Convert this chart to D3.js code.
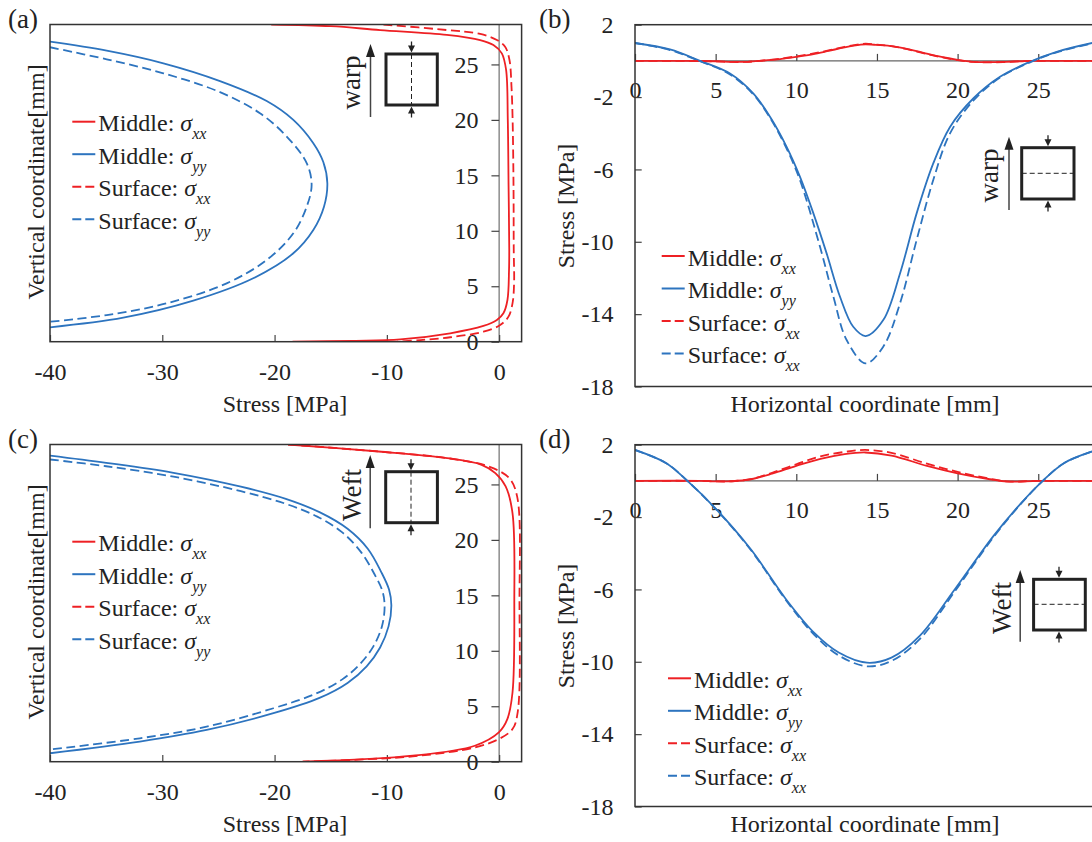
<!DOCTYPE html>
<html>
<head>
<meta charset="utf-8">
<script src="https://cdn.jsdelivr.net/npm/d3@7"></script>
<style>
  body { margin: 0; background: #fff; }
  svg { display: block; font-family: "Liberation Serif", "Times New Roman", serif; }
</style>
</head>
<body>
<svg width="1092" height="842"></svg>
<script>
// ---- data: profiles along the vertical coordinate, [stress MPa, y mm] ----
var warpMidSxx = [[-20.3, 28.6], [-15, 28.45], [-10.6, 28.1], [-4.66, 27.66], [-1.69, 27.2], [-0.51, 26.75], [0.24, 26.0], [0.62, 24.5], [0.77, 20.0], [0.84, 14.0], [0.9, 8.3], [0.88, 6.46], [0.74, 3.76], [0.38, 2.56], [-0.2, 1.96], [-1.4, 1.42], [-4.36, 0.76], [-8.8, 0.21], [-13, 0.08], [-18.4, 0]];
var warpSurfSxx = [[-10.3, 28.6], [-4.66, 28.1], [-1.69, 27.75], [-0.2, 27.2], [0.53, 26.6], [0.92, 25.4], [1.1, 23.0], [1.2, 20], [1.28, 14], [1.3, 8.3], [1.33, 5.26], [1.19, 3.46], [0.83, 2.26], [0.09, 1.5], [-1.4, 0.9], [-4.36, 0.4], [-7.0, 0.15], [-9.1, 0]];
var warpMidSyy = [[-40.0, 27.05], [-34.95, 26.24], [-29.9, 25.1], [-24.86, 23.5], [-20.7, 21.7], [-18.33, 20.0], [-16.55, 17.9], [-15.66, 16.2], [-15.3, 14.28], [-15.6, 12.17], [-16.55, 10.07], [-18.33, 7.97], [-21.9, 5.72], [-27.24, 3.7], [-33.47, 2.17], [-40.0, 1.3]];
var warpSurfSyy = [[-40.0, 26.55], [-34.95, 25.46], [-29.9, 24.2], [-24.86, 22.5], [-21.3, 20.6], [-18.92, 18.5], [-17.14, 16.1], [-16.7, 14.13], [-17.14, 12.17], [-18.33, 9.77], [-20.7, 7.37], [-24.27, 5.26], [-29.6, 3.46], [-34.95, 2.4], [-40.0, 1.8]];

var weftMidSxx = [[-18.8, 28.6], [-10.75, 27.97], [-4.63, 27.37], [-1.56, 26.77], [-0.34, 26.02], [0.58, 24.82], [1.19, 22.42], [1.35, 14.33], [1.19, 6.24], [0.73, 3.84], [-0.03, 2.64], [-2.17, 1.44], [-7.69, 0.54], [-17.5, 0]];
var weftSurfSxx = [[-18.8, 28.6], [-10.75, 27.97], [-4.63, 27.37], [-0.95, 26.62], [0.89, 25.57], [1.6, 23.92], [1.81, 14.33], [1.65, 4.44], [1.19, 2.94], [-0.03, 2.04], [-2.17, 1.29], [-7.69, 0.48], [-17.5, 0]];
var weftMidSyy = [[-40, 27.6], [-35, 26.95], [-29, 26.05], [-23, 24.8], [-19, 23.7], [-16, 22.5], [-13.5, 21.0], [-11.7, 19.2], [-10.5, 17.1], [-9.8, 15.5], [-9.6, 14.1], [-9.85, 12.2], [-10.6, 10.3], [-11.8, 8.6], [-13.5, 7.1], [-16.0, 5.75], [-20.1, 4.37], [-26.05, 2.86], [-32, 1.81], [-40, 0.76]];
var weftSurfSyy = [[-40, 27.25], [-35, 26.64], [-29, 25.7], [-23, 24.39], [-19, 23.25], [-16.2, 22.1], [-14, 20.7], [-12.3, 18.9], [-11.1, 16.9], [-10.4, 15.4], [-10.2, 14.03], [-10.44, 12.2], [-11.2, 10.4], [-12.4, 8.8], [-14.0, 7.4], [-16.4, 6.1], [-20.1, 4.82], [-26.05, 3.16], [-32, 2.11], [-40, 1.1]];

// ---- data: along the horizontal coordinate, [x mm, stress MPa] ----
var warpHMidSxx = [[0, 0], [3, 0], [5, -0.02], [6, -0.05], [7, -0.05], [8, 0.02], [9, 0.1], [10, 0.22], [11, 0.36], [12, 0.55], [13, 0.75], [14, 0.9], [14.3, 0.92], [15, 0.88], [16, 0.8], [17, 0.63], [18, 0.42], [19, 0.22], [20, 0.06], [21, -0.05], [22, -0.07], [23, -0.05], [24, -0.02], [25, 0], [28.4, 0]];
var warpHSurfSxx = [[0, 0], [3, 0], [5, -0.03], [6, -0.06], [7, -0.05], [8, 0.03], [9, 0.12], [10, 0.25], [11, 0.4], [12, 0.58], [13, 0.78], [14, 0.93], [14.3, 0.95], [15, 0.9], [16, 0.8], [17, 0.62], [18, 0.4], [19, 0.2], [20, 0.04], [21, -0.06], [22, -0.08], [23, -0.06], [24, -0.02], [25, 0], [28.4, 0]];
var warpHMidSyy = [[0, 0.99], [2.17, 0.63], [4.03, 0], [5.89, -0.7], [7.33, -1.8], [8.37, -3.09], [9.4, -4.75], [10.23, -6.41], [11.06, -8.43], [11.88, -10.64], [12.71, -13.04], [13.53, -14.7], [14.3, -15.21], [15.39, -14.33], [16.43, -11.75], [17.46, -8.43], [18.49, -5.67], [19.53, -3.65], [20.97, -2.08], [22.63, -0.88], [24.49, -0.05], [26.14, 0.5], [28.4, 1.0]];
var warpHSurfSyy = [[0, 0.99], [2.17, 0.6], [4.03, -0.02], [5.89, -0.75], [7.33, -1.85], [8.37, -3.15], [9.4, -4.85], [10.23, -6.6], [11.47, -10.28], [12.3, -13.04], [13.12, -15.43], [14.3, -16.72], [15.39, -15.8], [16.43, -13.4], [17.46, -9.9], [18.49, -6.59], [19.53, -4.01], [20.97, -2.2], [22.63, -0.92], [24.49, -0.08], [26.14, 0.47], [28.4, 0.98]];

var weftHMidSxx = [[0, 0], [4, 0], [5, -0.03], [6, -0.02], [7.18, 0.09], [8.5, 0.4], [10, 0.83], [11.5, 1.22], [13, 1.48], [14.27, 1.57], [15.9, 1.4], [18.1, 0.83], [20, 0.42], [22, 0.09], [23.1, -0.04], [25, 0], [28.4, 0]];
var weftHSurfSxx = [[0, 0], [4, 0], [5, -0.03], [6, -0.02], [7.18, 0.1], [8.5, 0.45], [10, 0.92], [11.5, 1.36], [13, 1.6], [14.27, 1.71], [15.9, 1.55], [18.1, 0.95], [20, 0.5], [22, 0.12], [23.1, -0.03], [25, 0], [28.4, 0]];
var weftHMidSyy = [[0, 1.71], [1.94, 0.98], [3.25, 0], [5.0, -1.53], [7.18, -3.78], [9.36, -6.54], [11.1, -8.39], [12.63, -9.49], [14.38, -10.05], [15.9, -9.77], [17.65, -8.57], [19.83, -5.99], [22.23, -3.04], [23.97, -1.2], [25.28, 0], [26.59, 0.98], [28.4, 1.64]];
var weftHSurfSyy = [[0, 1.71], [1.94, 0.98], [3.25, 0], [5.0, -1.55], [7.18, -3.82], [9.36, -6.6], [11.1, -8.5], [12.63, -9.65], [14.38, -10.25], [15.9, -9.95], [17.65, -8.75], [19.83, -6.1], [22.23, -3.1], [23.97, -1.22], [25.28, 0], [26.59, 0.98], [28.4, 1.64]];

// ---- ticks and labels ----
var profileXTicks = [-40, -30, -20, -10, 0];
var profileYTicks = [0, 5, 10, 15, 20, 25];
var horizXTicks = [0, 5, 10, 15, 20, 25];
var horizYTicks = [2, -2, -6, -10, -14, -18];
var legendProfile = [["Middle", "xx"], ["Middle", "yy"], ["Surface", "xx"], ["Surface", "yy"]];
var legendHoriz = [["Middle", "xx"], ["Middle", "yy"], ["Surface", "xx"], ["Surface", "xx"]];

var RED = "#ee2024", BLUE = "#2d74bf", INK = "#222";
var styles = [
  { color: RED, dash: null },
  { color: BLUE, dash: null },
  { color: RED, dash: "9,4.5" },
  { color: BLUE, dash: "9,4.5" }
];

var svg = d3.select("svg");
svg.append("rect").attr("width", 1092).attr("height", 842).attr("fill", "#fff");
var fmt = function (d) { return String(d); };

function styleAxis(ax) {
  ax.select(".domain").remove();
  ax.selectAll("line").attr("stroke", "#444").attr("stroke-width", 1.2);
  ax.selectAll("text").attr("fill", INK).style("font-size", "24px")
    .style("font-family", "'Liberation Serif', 'Times New Roman', serif");
}

function addLegend(g, x0, y0, labels) {
  labels.forEach(function (lab, i) {
    var y = y0 + i * 32.5;
    g.append("line").attr("x1", x0).attr("x2", x0 + 23).attr("y1", y).attr("y2", y)
      .attr("stroke", styles[i].color).attr("stroke-width", 2)
      .attr("stroke-dasharray", styles[i].dash ? "9,4" : null);
    var t = g.append("text").attr("x", x0 + 26).attr("y", y + 9.5)
      .attr("fill", INK).style("font-size", "24px");
    t.append("tspan").text(lab[0] + ": ");
    t.append("tspan").style("font-style", "italic").text("σ");
    t.append("tspan").style("font-style", "italic").style("font-size", "16px")
      .attr("dy", 8).text(lab[1]);
  });
}

function addInset(g, o) {
  // big direction arrow
  g.append("line").attr("x1", o.ax).attr("x2", o.ax).attr("y1", o.aBot).attr("y2", o.aTop + 10)
    .attr("stroke", "#444").attr("stroke-width", 1.5);
  g.append("path").attr("fill", "#222")
    .attr("d", "M" + o.ax + "," + o.aTop + "l-4.5,13h9z");
  // specimen box
  g.append("rect").attr("x", o.box[0]).attr("y", o.box[1])
    .attr("width", o.box[2] - o.box[0]).attr("height", o.box[3] - o.box[1])
    .attr("fill", "none").attr("stroke", INK).attr("stroke-width", 3);
  if (o.cut === "v") {
    g.append("line").attr("x1", o.mx).attr("x2", o.mx).attr("y1", o.box[1]).attr("y2", o.box[3])
      .attr("stroke", INK).attr("stroke-width", 1).attr("stroke-dasharray", "5,3");
  } else {
    g.append("line").attr("x1", o.box[0]).attr("x2", o.box[2]).attr("y1", o.cy).attr("y2", o.cy)
      .attr("stroke", INK).attr("stroke-width", 1).attr("stroke-dasharray", "5,3");
  }
  // small load arrows
  var t = o.box[1] - 1.5, b = o.box[3] + 1.5;
  g.append("line").attr("x1", o.mx).attr("x2", o.mx).attr("y1", t - 11).attr("y2", t - 4)
    .attr("stroke", INK).attr("stroke-width", 1.3);
  g.append("path").attr("fill", INK).attr("d", "M" + o.mx + "," + t + "l-3.5,-7h7z");
  g.append("line").attr("x1", o.mx).attr("x2", o.mx).attr("y1", b + 11).attr("y2", b + 4)
    .attr("stroke", INK).attr("stroke-width", 1.3);
  g.append("path").attr("fill", INK).attr("d", "M" + o.mx + "," + b + "l-3.5,7h7z");
  g.append("text").attr("transform", "translate(" + o.tx + "," + o.ty + ") rotate(-90)")
    .attr("text-anchor", "middle").attr("fill", INK).style("font-size", "27px").text(o.text);
}

function profilePanel(dy, id, label, series, inset) {
  var g = svg.append("g").attr("transform", "translate(0," + dy + ")");
  var x = d3.scaleLinear().domain([-40, 2]).range([50, 521.6]);
  var y = d3.scaleLinear().domain([0, 28.6]).range([341.7, 24.5]);

  g.append("clipPath").attr("id", id).append("rect")
    .attr("x", 50).attr("y", 24.5).attr("width", 471.6).attr("height", 317.2);

  // zero line with the vertical coordinate axis
  g.append("line").attr("x1", x(0)).attr("x2", x(0)).attr("y1", y(0)).attr("y2", y(28.6))
    .attr("stroke", "#7a7a7a").attr("stroke-width", 1.3);
  var ya = g.append("g").attr("transform", "translate(" + x(0) + ",0)")
    .call(d3.axisLeft(y).tickValues(profileYTicks).tickFormat(fmt).tickSize(7.7).tickPadding(13));
  styleAxis(ya);
  var xa = g.append("g").attr("transform", "translate(0," + y(0) + ")")
    .call(d3.axisBottom(x).tickValues(profileXTicks).tickFormat(fmt).tickSize(-6.7).tickPadding(21));
  styleAxis(xa);

  var line = d3.line().x(function (d) { return x(d[0]); }).y(function (d) { return y(d[1]); })
    .curve(d3.curveCatmullRom.alpha(0.5));
  var plot = g.append("g").attr("clip-path", "url(#" + id + ")");
  series.forEach(function (s, i) {
    plot.append("path").attr("d", line(s)).attr("fill", "none")
      .attr("stroke", styles[i].color).attr("stroke-width", 1.8)
      .attr("stroke-dasharray", styles[i].dash);
  });

  g.append("rect").attr("x", 50).attr("y", 24.5).attr("width", 471.6).attr("height", 317.2)
    .attr("fill", "none").attr("stroke", "#333").attr("stroke-width", 1.5);

  addLegend(g, 72.3, 121.7, legendProfile);
  addInset(g, inset);

  g.append("text").attr("x", 285).attr("y", 411.5).attr("text-anchor", "middle")
    .attr("fill", INK).style("font-size", "24px").text("Stress [MPa]");
  g.append("text").attr("transform", "translate(43.5,182) rotate(-90)").attr("text-anchor", "middle")
    .attr("fill", INK).style("font-size", "24px").text("Vertical coordinate[mm]");
  g.append("text").attr("x", 8).attr("y", 28).attr("fill", INK).style("font-size", "27px").text(label);
}

function horizPanel(dy, id, label, series, inset) {
  var g = svg.append("g").attr("transform", "translate(0," + dy + ")");
  var x = d3.scaleLinear().domain([0, 30]).range([635, 635 + 30 * 16.13]);
  var y = d3.scaleLinear().domain([-18, 2]).range([386.5, 24.7]);

  g.append("clipPath").attr("id", id).append("rect")
    .attr("x", x(0)).attr("y", y(2)).attr("width", x(30) - x(0)).attr("height", y(-18) - y(2));

  g.append("line").attr("x1", x(0)).attr("x2", x(30)).attr("y1", y(0)).attr("y2", y(0))
    .attr("stroke", "#666").attr("stroke-width", 1.3);
  var xa = g.append("g").attr("transform", "translate(0," + y(0) + ")")
    .call(d3.axisBottom(x).tickValues(horizXTicks).tickFormat(fmt).tickSize(-7).tickPadding(20));
  styleAxis(xa);
  var ya = g.append("g").attr("transform", "translate(" + x(0) + ",0)")
    .call(d3.axisLeft(y).tickValues(horizYTicks).tickFormat(fmt).tickSize(-6.7).tickPadding(21.5));
  styleAxis(ya);

  var line = d3.line().x(function (d) { return x(d[0]); }).y(function (d) { return y(d[1]); })
    .curve(d3.curveCatmullRom.alpha(0.5));
  var plot = g.append("g").attr("clip-path", "url(#" + id + ")");
  series.forEach(function (s, i) {
    plot.append("path").attr("d", line(s)).attr("fill", "none")
      .attr("stroke", styles[i].color).attr("stroke-width", 1.8)
      .attr("stroke-dasharray", styles[i].dash);
  });

  g.append("rect").attr("x", x(0)).attr("y", y(2)).attr("width", x(30) - x(0)).attr("height", y(-18) - y(2))
    .attr("fill", "none").attr("stroke", "#333").attr("stroke-width", 1.5);

  addLegend(g, inset.legX, inset.legY, legendHoriz);
  addInset(g, inset);

  g.append("text").attr("x", 865).attr("y", 411.5).attr("text-anchor", "middle")
    .attr("fill", INK).style("font-size", "24px").text("Horizontal coordinate [mm]");
  g.append("text").attr("transform", "translate(574,206) rotate(-90)").attr("text-anchor", "middle")
    .attr("fill", INK).style("font-size", "24px").text("Stress [MPa]");
  g.append("text").attr("x", 539).attr("y", 28).attr("fill", INK).style("font-size", "27px").text(label);
}

profilePanel(0, "clipA", "(a)", [warpMidSxx, warpMidSyy, warpSurfSxx, warpSurfSyy],
  { ax: 370.5, aTop: 44, aBot: 117, box: [386, 54, 437.3, 105], cut: "v", mx: 411.5,
    text: "warp", tx: 359.5, ty: 82.5 });
horizPanel(0, "clipB", "(b)", [warpHMidSxx, warpHMidSyy, warpHSurfSxx, warpHSurfSyy],
  { ax: 1009, aTop: 136.7, aBot: 210, box: [1021.7, 147.7, 1074, 199], cut: "h", cy: 173.3, mx: 1048,
    text: "warp", tx: 998, ty: 175.5, legX: 661.7, legY: 256 });
profilePanel(420, "clipC", "(c)", [weftMidSxx, weftMidSyy, weftSurfSxx, weftSurfSyy],
  { ax: 370.2, aTop: 35, aBot: 108.3, box: [385.7, 51.7, 437.4, 102.7], cut: "v", mx: 411,
    text: "Weft", tx: 361, ty: 75 });
horizPanel(420, "clipD", "(d)", [weftHMidSxx, weftHMidSyy, weftHSurfSxx, weftHSurfSyy],
  { ax: 1020.2, aTop: 150, aBot: 221.7, box: [1033.6, 159.3, 1085.3, 210], cut: "h", cy: 184.3, mx: 1059,
    text: "Weft", tx: 1011, ty: 188, legX: 668, legY: 258.3 });
</script>
</body>
</html>
